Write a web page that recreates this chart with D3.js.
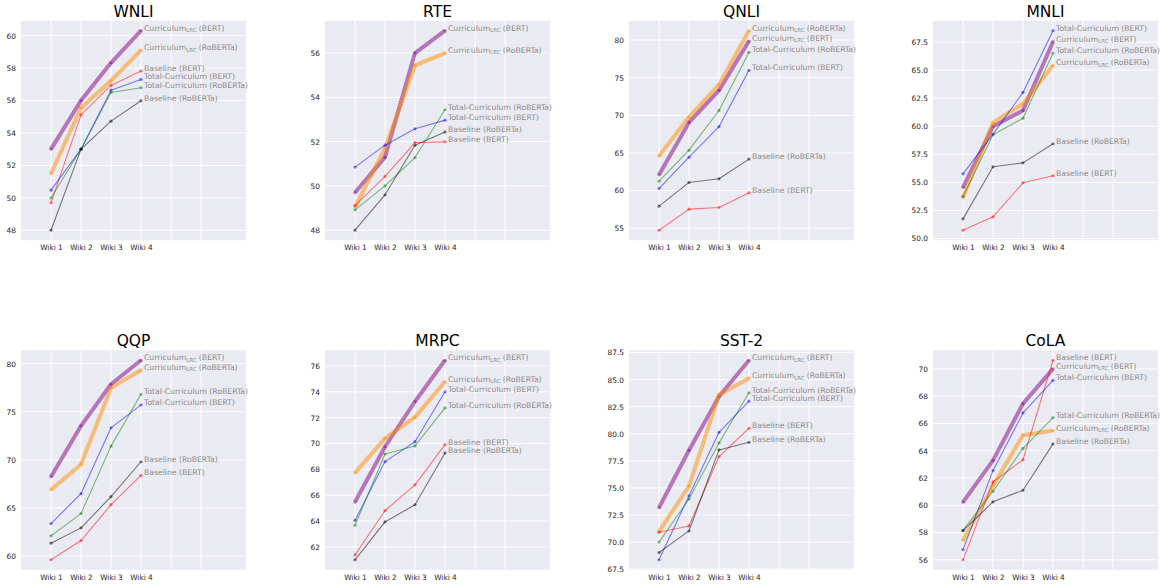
<!DOCTYPE html>
<html>
<head>
<meta charset="utf-8">
<script src="https://cdn.jsdelivr.net/npm/d3@7"></script>
<style>
  body { margin: 0; background: #fff; }
  text { font-family: "DejaVu Sans", sans-serif; }
</style>
</head>
<body>
<svg id="chart" width="1161" height="585"></svg>
<script>
/* ---------- data ---------- */
const tasks = ['WNLI', 'RTE', 'QNLI', 'MNLI', 'QQP', 'MRPC', 'SST-2', 'CoLA'];
const wikiLabels = ['Wiki 1', 'Wiki 2', 'Wiki 3', 'Wiki 4'];

// one row per task, same order as `tasks`
const curriculumBert = [
  [53.0, 56.0, 58.33, 60.31],
  [49.7, 51.3, 56.0, 57.01],
  [62.09, 69.05, 73.31, 79.87],
  [54.55, 59.98, 61.41, 67.53],
  [68.26, 73.54, 77.86, 80.35],
  [65.47, 69.75, 73.25, 76.44],
  [73.17, 78.48, 83.45, 86.79],
  [60.23, 63.29, 67.45, 70.0]
];
const curriculumRoberta = [
  [51.5, 55.55, 57.22, 59.11],
  [49.05, 51.7, 55.44, 56.0],
  [64.57, 69.76, 74.06, 81.24],
  [53.65, 60.31, 62.0, 65.42],
  [66.91, 69.53, 77.48, 79.34],
  [67.73, 70.4, 72.04, 74.79],
  [70.97, 75.17, 83.6, 85.14],
  [57.43, 61.44, 65.14, 65.48]
];
const baselineBert = [
  [49.69, 55.12, 56.93, 57.82],
  [49.11, 50.43, 51.96, 51.99],
  [54.73, 57.53, 57.75, 59.7],
  [50.74, 51.93, 54.96, 55.59],
  [59.62, 61.62, 65.35, 68.39],
  [61.38, 64.8, 66.8, 69.91],
  [70.9, 71.49, 77.9, 80.51],
  [56.0, 61.71, 63.34, 70.63]
];
const totalBert = [
  [50.47, 53.0, 56.64, 57.3],
  [50.85, 51.84, 52.58, 52.97],
  [60.27, 64.44, 68.48, 75.97],
  [55.76, 59.3, 63.01, 68.51],
  [63.39, 66.49, 73.33, 75.72],
  [64.05, 68.6, 70.14, 74.0],
  [68.36, 74.28, 80.14, 83.02],
  [56.75, 62.54, 66.77, 69.15]
];
const totalRoberta = [
  [50.0, 53.0, 56.5, 56.79],
  [48.92, 50.0, 51.28, 53.44],
  [61.25, 65.37, 70.64, 78.36],
  [53.74, 59.24, 60.72, 66.52],
  [62.11, 64.42, 71.43, 76.82],
  [63.67, 69.19, 69.81, 72.76],
  [70.0, 73.97, 79.16, 83.79],
  [58.16, 61.03, 64.17, 66.43]
];
const baselineRoberta = [
  [48.0, 53.0, 54.73, 55.99],
  [48.0, 49.6, 51.84, 52.44],
  [57.93, 61.08, 61.56, 64.18],
  [51.75, 56.39, 56.74, 58.44],
  [61.35, 62.94, 66.18, 69.81],
  [61.0, 63.93, 65.26, 69.27],
  [69.03, 71.03, 78.51, 79.22],
  [58.14, 60.25, 61.1, 64.5]
];

const yTicks = [
  [48, 50, 52, 54, 56, 58, 60],
  [48, 50, 52, 54, 56],
  [55, 60, 65, 70, 75, 80],
  [50, 52.5, 55, 57.5, 60, 62.5, 65, 67.5],
  [60, 65, 70, 75, 80],
  [62, 64, 66, 68, 70, 72, 74, 76],
  [67.5, 70, 72.5, 75, 77.5, 80, 82.5, 85, 87.5],
  [56, 58, 60, 62, 64, 66, 68, 70]
];
const tickDecimals = [0, 0, 0, 1, 0, 0, 1, 0];

/* ---------- series styles ---------- */
const series = [
  { name: 'Curriculum', sub: 'LRC', model: '(BERT)', values: curriculumBert, color: 'purple', width: 4 },
  { name: 'Curriculum', sub: 'LRC', model: '(RoBERTa)', values: curriculumRoberta, color: 'darkorange', width: 4 },
  { name: 'Baseline', model: '(BERT)', values: baselineBert, color: 'red', width: 1.1 },
  { name: 'Total-Curriculum', model: '(BERT)', values: totalBert, color: 'blue', width: 1.1 },
  { name: 'Total-Curriculum', model: '(RoBERTa)', values: totalRoberta, color: 'green', width: 1.1 },
  { name: 'Baseline', model: '(RoBERTa)', values: baselineRoberta, color: 'black', width: 1.1 }
];

/* ---------- layout ---------- */
const svg = d3.select('#chart');
const panelW = 225;
const panelH = 219.5;
const colStep = 304;
const rowTops = [20.7, 350.3];

tasks.forEach((task, t) => {
  const col = t % 4;
  const row = Math.floor(t / 4);
  const g = svg.append('g')
    .attr('transform', `translate(${21 + col * colStep},${rowTops[row]})`);

  // matplotlib-like autoscale with 5% margins
  const all = series.flatMap(s => s.values[t]);
  const lo = d3.min(all), hi = d3.max(all);
  const pad = (hi - lo) * 0.05;

  const x = d3.scaleLinear().domain([-1, 6.5]).range([0, panelW]);
  const y = d3.scaleLinear().domain([lo - pad, hi + pad]).range([panelH, 0]);

  g.append('rect')
    .attr('width', panelW)
    .attr('height', panelH)
    .attr('fill', '#eaeaf2');

  // grid
  g.append('g')
    .selectAll('line')
    .data(d3.range(0, 6))
    .join('line')
    .attr('x1', d => x(d)).attr('x2', d => x(d))
    .attr('y1', 0).attr('y2', panelH)
    .attr('stroke', '#fff').attr('stroke-width', 1);

  g.append('g')
    .selectAll('line')
    .data(yTicks[t])
    .join('line')
    .attr('x1', 0).attr('x2', panelW)
    .attr('y1', d => y(d)).attr('y2', d => y(d))
    .attr('stroke', '#fff').attr('stroke-width', 1);

  // axes
  const xAxis = g.append('g')
    .attr('transform', `translate(0,${panelH})`)
    .call(d3.axisBottom(x)
      .tickValues(d3.range(0, wikiLabels.length))
      .tickFormat(i => wikiLabels[i])
      .tickSize(0)
      .tickPadding(3.5));
  const yAxis = g.append('g')
    .call(d3.axisLeft(y)
      .tickValues(yTicks[t])
      .tickFormat(d3.format(`.${tickDecimals[t]}f`))
      .tickSize(0)
      .tickPadding(5));
  [xAxis, yAxis].forEach(a => {
    a.select('.domain').remove();
    a.selectAll('text')
      .attr('fill', '#262626')
      .style('font-size', '7.4px')
      .style('font-family', '"DejaVu Sans", sans-serif');
  });
  xAxis.selectAll('text').attr('dy', '0.85em');

  // title
  g.append('text')
    .attr('x', panelW / 2)
    .attr('y', -4.2)
    .attr('text-anchor', 'middle')
    .attr('font-size', 15.5)
    .attr('fill', '#000')
    .text(task);

  // lines and markers
  const line = d3.line()
    .x((d, i) => x(i))
    .y(d => y(d));

  series.forEach(s => {
    const vals = s.values[t];
    g.append('path')
      .datum(vals)
      .attr('fill', 'none')
      .attr('stroke', s.color)
      .attr('stroke-opacity', 0.5)
      .attr('stroke-width', s.width)
      .attr('stroke-linejoin', 'round')
      .attr('d', line);

    g.append('g')
      .selectAll('circle')
      .data(vals)
      .join('circle')
      .attr('cx', (d, i) => x(i))
      .attr('cy', d => y(d))
      .attr('r', 1.6)
      .attr('fill', s.color)
      .attr('fill-opacity', 0.5);
  });

  // end labels
  series.forEach(s => {
    const last = s.values[t].length - 1;
    const txt = g.append('text')
      .attr('x', x(last + 0.1))
      .attr('y', y(s.values[t][last]))
      .attr('font-size', 7.7)
      .attr('fill', '#8a8a8a');
    txt.append('tspan').text(s.name);
    if (s.sub) {
      txt.append('tspan').attr('font-size', 5.4).attr('dy', 1.4).text(s.sub);
      txt.append('tspan').attr('dy', -1.4).text(' ' + s.model);
    } else {
      txt.append('tspan').text(' ' + s.model);
    }
  });
});
</script>
</body>
</html>
